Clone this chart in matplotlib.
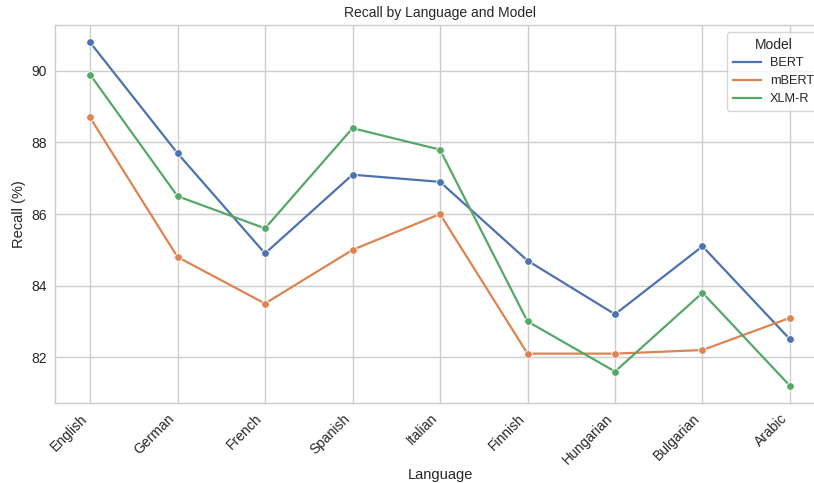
import matplotlib
matplotlib.use("Agg")
import matplotlib.pyplot as plt
from matplotlib.lines import Line2D
import numpy as np

LANGUAGES = ["English", "German", "French", "Spanish", "Italian",
             "Finnish", "Hungarian", "Bulgarian", "Arabic"]
MODELS = ["BERT", "mBERT", "XLM-R"]
BERT = [90.8, 87.7, 84.9, 87.1, 86.9, 84.7, 83.2, 85.1, 82.5]
MBERT = [88.7, 84.8, 83.5, 85.0, 86.0, 82.1, 82.1, 82.2, 83.1]
XLMR = [89.9, 86.5, 85.6, 88.4, 87.8, 83.0, 81.6, 83.8, 81.2]
Y_TICKS = [82, 84, 86, 88, 90]

COLORS = ["#4C72B0", "#DD8452", "#55A868"]  # seaborn "deep"
TEXT = "#262626"
GRID = "#cccccc"

plt.rcParams["font.family"] = ["Liberation Sans", "DejaVu Sans"]
plt.rcParams["font.size"] = 10

fig = plt.figure(figsize=(8.14, 4.83), dpi=100)
# axes run a little past the right edge, like the cropped original
ax = fig.add_axes([0.0676, 0.1656, 0.9459, 0.7824])
ax.set_facecolor("white")

x = np.arange(len(LANGUAGES))
for name, vals, col in zip(MODELS, [BERT, MBERT, XLMR], COLORS):
    ax.plot(x, vals, color=col, lw=1.6, marker="o", ms=5.5,
            mec="white", mew=0.6, label=name, zorder=3)

ax.set_xticks(x)
ax.set_xticklabels(LANGUAGES, rotation=45, ha="right")
ax.set_yticks(Y_TICKS)
ax.grid(True, color=GRID, lw=1.0, zorder=0)
ax.set_axisbelow(True)
for sp in ax.spines.values():
    sp.set_color(GRID)
    sp.set_linewidth(1.0)
ax.tick_params(colors=TEXT, labelsize=10, length=0, pad=6)

ax.set_xlabel("Language", color=TEXT, fontsize=10.5, labelpad=1)
ax.set_ylabel("Recall (%)", color=TEXT, fontsize=10.5)
ax.set_title("Recall by Language and Model", color=TEXT, fontsize=10)

# legend shows lines only, as in the original
handles = [Line2D([], [], color=c, lw=1.6) for c in COLORS]
leg = ax.legend(handles, MODELS, title="Model", loc="upper left",
                bbox_to_anchor=(727 / 814, 1 - 32 / 483),
                bbox_transform=fig.transFigure, borderaxespad=0,
                fontsize=9.2, title_fontsize=10, frameon=True,
                framealpha=0.8, edgecolor=GRID, handlelength=2.2,
                labelspacing=0.45, handletextpad=0.7, borderpad=0.45)
for t in leg.get_texts():
    t.set_color(TEXT)
leg.get_title().set_color(TEXT)

fig.savefig("out.png", dpi=100, facecolor="white")
